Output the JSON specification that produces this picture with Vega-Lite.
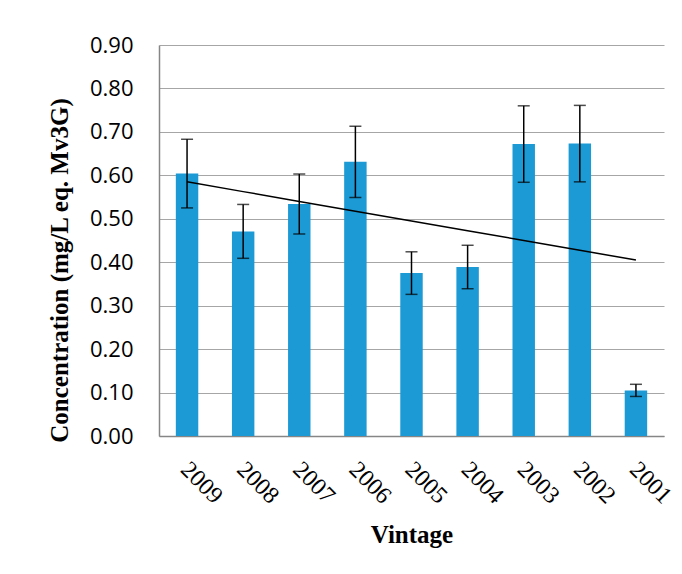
{
  "$schema": "https://vega.github.io/schema/vega-lite/v6.json",
  "width": 505,
  "height": 391,
  "autosize": {"type": "none"},
  "padding": {"left": 159, "top": 45, "right": 18, "bottom": 138},
  "background": "white",
  "config": {"view": {"stroke": null}},
  "data": {
    "values": [
      {"vintage": "2009", "value": 0.604, "err": 0.079, "trend": 0.585},
      {"vintage": "2008", "value": 0.471, "err": 0.062, "trend": 0.5625},
      {"vintage": "2007", "value": 0.534, "err": 0.069, "trend": 0.54},
      {"vintage": "2006", "value": 0.631, "err": 0.082, "trend": 0.5175},
      {"vintage": "2005", "value": 0.375, "err": 0.049, "trend": 0.495},
      {"vintage": "2004", "value": 0.389, "err": 0.05, "trend": 0.4725},
      {"vintage": "2003", "value": 0.672, "err": 0.088, "trend": 0.45},
      {"vintage": "2002", "value": 0.673, "err": 0.088, "trend": 0.4275},
      {"vintage": "2001", "value": 0.105, "err": 0.014, "trend": 0.405}
    ]
  },
  "encoding": {
    "x": {
      "field": "vintage",
      "type": "nominal",
      "sort": ["2009", "2008", "2007", "2006", "2005", "2004", "2003", "2002", "2001"],
      "scale": {"paddingInner": 0.6, "paddingOuter": 0.3},
      "axis": {
        "title": "Vintage",
        "titleFont": "Liberation Serif",
        "titleFontSize": 25,
        "titleFontWeight": "bold",
        "titleColor": "black",
        "titleBaseline": "alphabetic",
        "titleY": 106,
        "labelAngle": 45,
        "labelFont": "Liberation Serif",
        "labelFontSize": 24,
        "labelColor": "black",
        "labelPadding": 21,
        "labelOffset": 6,
        "ticks": false,
        "domainColor": "#868686",
        "domainWidth": 1.5,
        "grid": false
      }
    }
  },
  "layer": [
    {
      "mark": {"type": "bar", "color": "#1c9ad6"},
      "encoding": {
        "y": {
          "field": "value",
          "type": "quantitative",
          "title": "Concentration (mg/L eq. Mv3G)",
          "scale": {"domain": [0, 0.9], "nice": false},
          "axis": {
            "titleFont": "Liberation Serif",
            "titleFontSize": 25,
            "titleFontWeight": "bold",
            "titleColor": "black",
            "titleBaseline": "alphabetic",
            "titleAlign": "center",
            "titleX": -92,
            "titleY": 225,
            "values": [0, 0.1, 0.2, 0.3, 0.4, 0.5, 0.6, 0.7, 0.8, 0.9],
            "format": ".2f",
            "labelFont": "Open Sans",
            "labelFontSize": 22,
            "labelColor": "black",
            "labelPadding": 26,
            "ticks": false,
            "domainColor": "#868686",
            "domainWidth": 1.5,
            "gridColor": "#a6a6a6",
            "gridWidth": 1.2
          }
        }
      }
    },
    {
      "mark": {
        "type": "errorbar",
        "ticks": {"size": 12, "thickness": 1.5, "color": "black"},
        "rule": {"strokeWidth": 1.5, "color": "black"}
      },
      "encoding": {
        "y": {"field": "value", "type": "quantitative", "title": "Concentration (mg/L eq. Mv3G)"},
        "yError": {"field": "err"}
      }
    },
    {
      "mark": {"type": "line", "color": "black", "strokeWidth": 1.5},
      "encoding": {
        "y": {"field": "trend", "type": "quantitative", "title": "Concentration (mg/L eq. Mv3G)"}
      }
    }
  ]
}
